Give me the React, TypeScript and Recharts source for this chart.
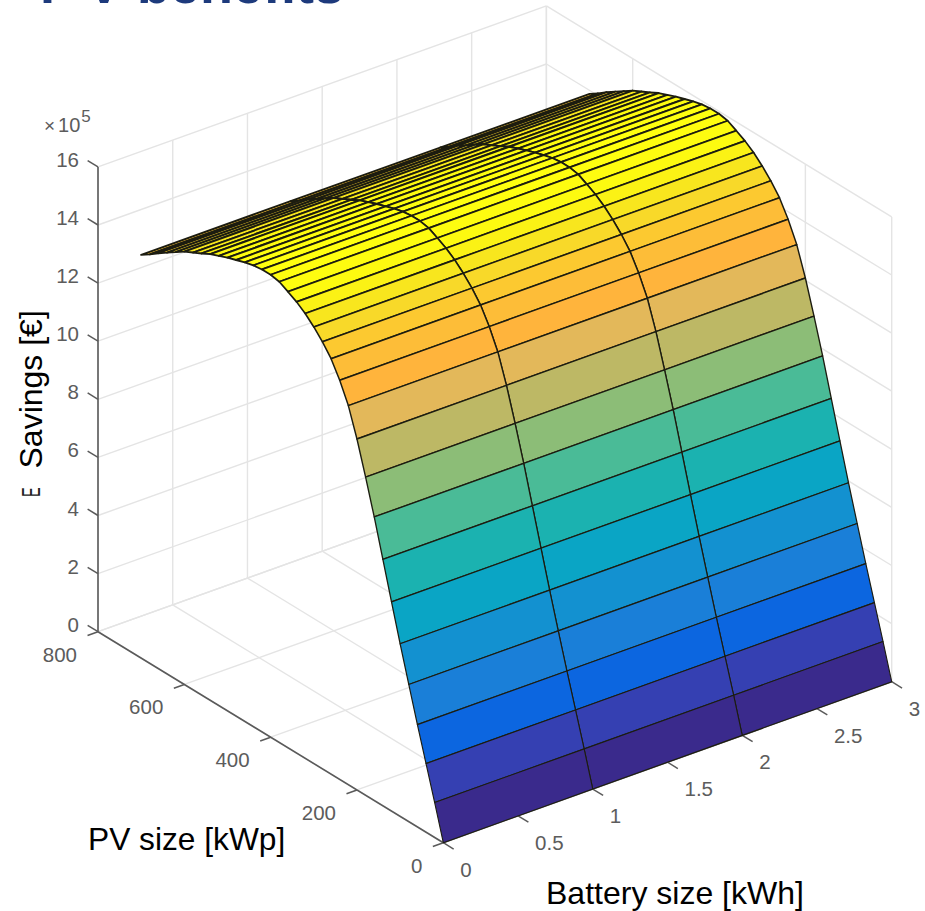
import React from "react";
import { ScatterChart, Scatter, XAxis, YAxis } from "recharts";

const WIDTH = 925;
const HEIGHT = 911;

// ---- Data ----
const pvSizes = [
  0, 20, 40, 60, 80, 100, 120, 140, 160, 180, 200, 220, 240, 260, 280, 300, 320, 340,
  360, 380, 400, 420, 440, 460, 480, 500, 520, 540, 560, 580, 600, 620, 640, 660, 680, 700,
];
const savingsE5 = [
  0, 1.2, 2.36, 3.52, 4.72, 5.94, 7.2, 8.48, 9.76, 10.95, 12.08, 13.05, 13.74, 14.3,
  14.7, 15.03, 15.31, 15.53, 15.7, 15.86, 15.92, 15.92, 15.88, 15.8, 15.7, 15.6, 15.48,
  15.36, 15.2, 15.05, 14.9, 14.7, 14.5, 14.3, 14.08, 13.88,
];
const batterySizes = [0, 1, 2, 3];
const batteryTicks = [0, 0.5, 1, 1.5, 2, 2.5, 3];
const batteryTickLabels = ["0", "0.5", "1", "1.5", "2", "2.5", "3"];
const pvTicks = [0, 200, 400, 600, 800];
const pvTickLabels = ["0", "200", "400", "600", "800"];
const savingsTicks = [0, 2, 4, 6, 8, 10, 12, 14, 16];
const savingsTickLabels = ["0", "2", "4", "6", "8", "10", "12", "14", "16"];
const bandColors = [
  "#3a2a8c", "#3540b2", "#0c66e0", "#1a7fd8", "#1391d0", "#0aa5c5", "#1ab2b0", "#48bb98",
  "#8abd78", "#bdb865", "#e3b85a", "#ffb43c", "#fdbc38", "#fcc830", "#f8d82a", "#f8e61e",
  "#fbf215", "#fdfa10", "#ffff10",
];
const colorLevels = [
  0, 0.076, 0.148, 0.22, 0.296, 0.372, 0.451, 0.53, 0.61, 0.688, 0.758, 0.818, 0.861, 0.897,
  0.922, 0.944, 0.962, 0.976, 1,
];

// ---- View of the 3-D box ----
const ORIGIN = { x: 443.3, y: 842.7 };
const PV_VEC = { x: -345.3 / 800, y: -211 / 800 };
const BATT_VEC = { x: 448.4 / 3, y: -161 / 3 };
const Z_VEC = -29.05;
const PV_MAX = 800;
const BATT_MAX = 3;
const Z_MAX = 16;

type P = { x: number; y: number };
const project = (pv: number, batt: number, z: number): P => ({
  x: ORIGIN.x + pv * PV_VEC.x + batt * BATT_VEC.x,
  y: ORIGIN.y + pv * PV_VEC.y + batt * BATT_VEC.y + z * Z_VEC,
});

const hexToRgb = (h: string) => [1, 3, 5].map((i) => parseInt(h.slice(i, i + 2), 16));
const colorFor = (z: number) => {
  const t = z / Math.max(...savingsE5);
  let i = 0;
  while (i < colorLevels.length - 2 && t > colorLevels[i + 1]) i++;
  const f = Math.min(1, (t - colorLevels[i]) / (colorLevels[i + 1] - colorLevels[i]));
  const a = hexToRgb(bandColors[i]);
  const b = hexToRgb(bandColors[i + 1]);
  return `rgb(${a.map((v, k) => Math.round(v + (b[k] - v) * f)).join(",")})`;
};

const noDot = () => <g />;

type Seg = { key: string; pts: P[]; stroke: string; width: number };
const segments: Seg[] = [];
const GRID = "#e4e4e4";
const AXIS = "#5a5a5a";
const seg = (key: string, a: P, b: P, stroke: string, width: number) =>
  segments.push({ key, pts: [a, b], stroke, width });

savingsTicks.forEach((z) => {
  seg(`w1-${z}`, project(PV_MAX, 0, z), project(PV_MAX, BATT_MAX, z), GRID, 1.4);
  seg(`w2-${z}`, project(PV_MAX, BATT_MAX, z), project(0, BATT_MAX, z), GRID, 1.4);
});
batteryTicks.forEach((b) => {
  seg(`w3-${b}`, project(PV_MAX, b, 0), project(PV_MAX, b, Z_MAX), GRID, 1.4);
  seg(`f1-${b}`, project(PV_MAX, b, 0), project(0, b, 0), GRID, 1.4);
});
pvTicks.forEach((pv) => {
  seg(`w4-${pv}`, project(pv, BATT_MAX, 0), project(pv, BATT_MAX, Z_MAX), GRID, 1.4);
  seg(`f2-${pv}`, project(pv, 0, 0), project(pv, BATT_MAX, 0), GRID, 1.4);
});
seg("axis-z", project(PV_MAX, 0, 0), project(PV_MAX, 0, Z_MAX), AXIS, 1.6);
seg("axis-pv", project(PV_MAX, 0, 0), project(0, 0, 0), AXIS, 1.6);
seg("axis-b", project(0, 0, 0), project(0, BATT_MAX, 0), AXIS, 1.6);
savingsTicks.forEach((z) =>
  seg(`tz-${z}`, project(PV_MAX, 0, z), project(PV_MAX + 24, 0, z), AXIS, 1.5)
);
pvTicks.forEach((pv) =>
  seg(`tp-${pv}`, project(pv, 0, 0), project(pv, -0.07, 0), AXIS, 1.5)
);
batteryTicks.forEach((b) =>
  seg(`tb-${b}`, project(0, b, 0), project(-24, b, 0), AXIS, 1.5)
);

type Quad = { key: string; pts: P[]; color: string; width: number };
const quads: Quad[] = [];
for (let i = pvSizes.length - 2; i >= 0; i--) {
  for (let j = batterySizes.length - 2; j >= 0; j--) {
    quads.push({
      key: `q-${i}-${j}`,
      color: colorFor(savingsE5[i]),
      width: 1.1 + 0.8 * Math.min(1, i / 24),
      pts: [
        project(pvSizes[i], batterySizes[j], savingsE5[i]),
        project(pvSizes[i], batterySizes[j + 1], savingsE5[i]),
        project(pvSizes[i + 1], batterySizes[j + 1], savingsE5[i + 1]),
        project(pvSizes[i + 1], batterySizes[j], savingsE5[i + 1]),
      ],
    });
  }
}

const TICK_FILL = "#5c5c5c";
const SANS = "'Liberation Sans', Arial, sans-serif";
const tickText = [
  ...savingsTicks.map((z, i) => {
    const p = project(PV_MAX, 0, z);
    return { x: p.x - 19, y: p.y, text: savingsTickLabels[i], anchor: "end" };
  }),
  ...pvTicks.map((pv, i) => {
    const p = project(pv, 0, 0);
    return { x: p.x - 21, y: p.y + 30, text: pvTickLabels[i], anchor: "end" };
  }),
  ...batteryTicks.map((b, i) => {
    const p = project(0, b, 0);
    return { x: p.x + 17, y: p.y + 34, text: batteryTickLabels[i], anchor: "start" };
  }),
];

const textShape = (props: any) => (
  <text
    x={props.cx}
    y={props.cy}
    textAnchor={props.payload.anchor}
    fontFamily={SANS}
    fontSize={20.5}
    fill={TICK_FILL}
  >
    {props.payload.text}
  </text>
);

const polyLine = (color: string, width: number) => (props: any) => (
  <polygon
    points={props.points.map((p: P) => `${p.x},${p.y}`).join(" ")}
    fill={color}
    stroke="#1c1c10"
    strokeWidth={width}
    strokeLinejoin="round"
  />
);
const plainLine = (stroke: string, width: number) => (props: any) => (
  <polyline
    points={props.points.map((p: P) => `${p.x},${p.y}`).join(" ")}
    fill="none"
    stroke={stroke}
    strokeWidth={width}
  />
);

const annotations = [{ x: 0, y: 0 }];

export default function App() {
  return (
    <div style={{ position: "absolute", left: 0, top: 0, width: WIDTH, height: HEIGHT, overflow: "hidden", background: "#fff" }}>
      <ScatterChart width={WIDTH} height={HEIGHT} margin={{ top: 0, right: 0, bottom: 0, left: 0 }}>
        <XAxis type="number" dataKey="x" domain={[0, WIDTH]} hide allowDataOverflow />
        <YAxis type="number" dataKey="y" domain={[0, HEIGHT]} reversed hide allowDataOverflow />
        {segments.map((s) => (
          <Scatter
            key={s.key}
            data={s.pts}
            isAnimationActive={false}
            line={plainLine(s.stroke, s.width)}
            shape={noDot}
            legendType="none"
          />
        ))}
        {quads.map((q) => (
          <Scatter
            key={q.key}
            data={q.pts}
            isAnimationActive={false}
            line={polyLine(q.color, q.width)}
            shape={noDot}
            legendType="none"
          />
        ))}
        <Scatter data={tickText} isAnimationActive={false} shape={textShape} legendType="none" />
        <Scatter
          data={annotations}
          isAnimationActive={false}
          legendType="none"
          shape={() => (
            <g fontFamily={SANS}>
              <text x={44} y={132} fontSize={20} fill={TICK_FILL}>
                <tspan fontSize={19}>×</tspan>
                <tspan dx={3}>10</tspan>
                <tspan dy={-10} dx={1} fontSize={17}>5</tspan>
              </text>
              <text x={40} y={3} fontSize={54} fontWeight={700} fill="#1d3a7c">
                P<tspan dx={10}>V benefits</tspan>
              </text>
              <text transform="translate(42,468.5) rotate(-90)" fontSize={32} fill="#000">Savings [€]</text>
              <text transform="translate(40,497) rotate(-90) scale(0.55,1)" fontSize={26} fill="#222">E</text>
              <text x={88} y={850} fontSize={31.7} fill="#000">PV size [kWp]</text>
              <text x={546} y={904} fontSize={32} fill="#000">Battery size [kWh]</text>
            </g>
          )}
        />
      </ScatterChart>
    </div>
  );
}
